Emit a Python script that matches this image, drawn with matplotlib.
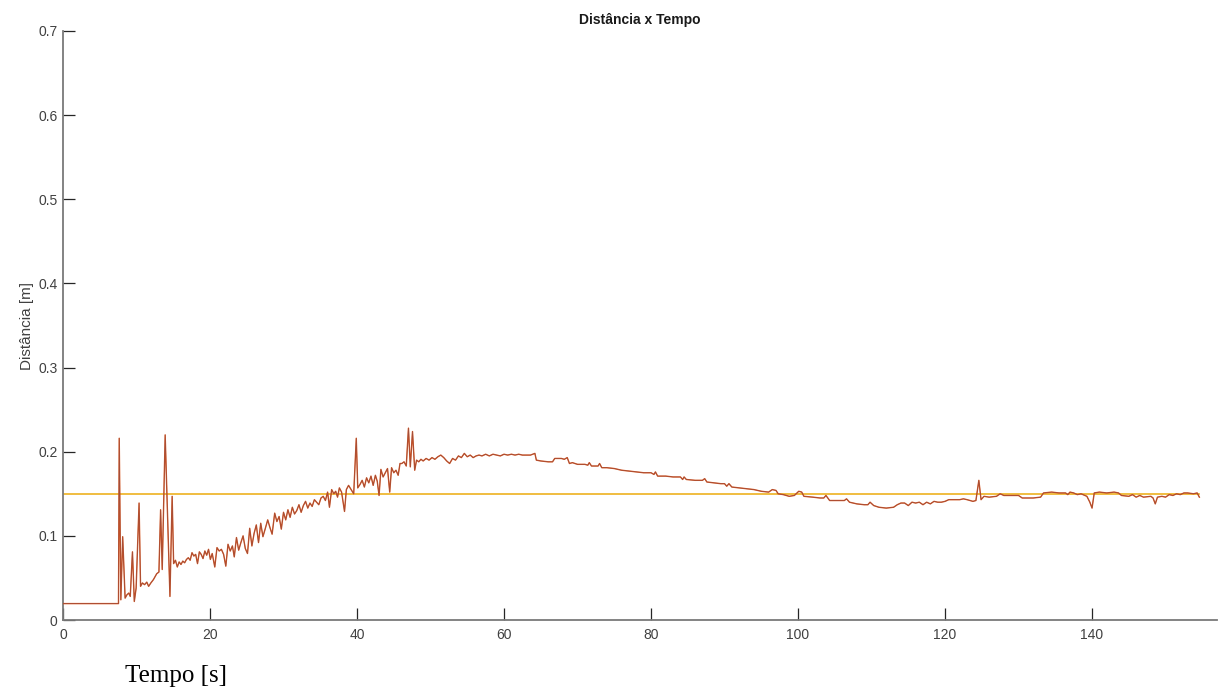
import matplotlib
matplotlib.use("Agg")
import matplotlib.pyplot as plt

# ---- data ----
tempo = [
    0.00, 7.55,
    7.65, 7.87, 8.12, 8.45, 8.70, 8.95, 9.15, 9.45, 9.70, 9.95,
    10.35, 10.55, 10.80, 11.10, 11.40, 11.65, 11.95, 12.30, 12.75, 13.05,
    13.28, 13.50, 13.90, 14.55, 14.85, 15.05, 15.30, 15.55, 15.80, 16.05,
    16.30, 16.55, 16.80, 17.05, 17.30, 17.55, 17.80, 18.05, 18.30, 18.55,
    18.80, 19.05, 19.30, 19.55, 19.80, 20.05, 20.30, 20.65, 20.95, 21.25,
    21.55, 21.85, 22.15, 22.45, 22.75, 23.05, 23.30, 23.60, 23.90, 24.20,
    24.50, 24.80, 25.10, 25.40, 25.70, 26.00, 26.30, 26.60, 26.90, 27.20,
    27.50, 27.85, 28.15, 28.45, 28.80, 29.10, 29.40, 29.70, 30.00, 30.30,
    30.60, 30.90, 31.20, 31.50, 31.80, 32.10, 32.40, 32.70, 33.00, 33.30,
    33.60, 33.90, 34.20, 34.50, 34.80, 35.10, 35.40, 35.70, 36.00, 36.25,
    36.55, 36.85, 37.10, 37.35, 37.60, 37.90, 38.30, 38.55, 38.85, 39.20,
    39.55, 39.90, 40.10, 40.40, 40.70, 41.00, 41.30, 41.60, 41.90, 42.20,
    42.50, 42.75, 43.00, 43.25, 43.55, 43.85, 44.15, 44.45, 44.70, 45.00,
    45.30, 45.60, 45.85, 46.10, 46.40, 46.70, 47.00, 47.25, 47.55, 47.85,
    48.10, 48.40, 48.70, 49.00, 49.40, 49.80, 50.20, 50.60, 51.00, 51.40,
    51.80, 52.20, 52.60, 53.00, 53.40, 53.80, 54.20, 54.60, 55.00, 55.40,
    55.80, 56.20, 56.60, 57.00, 57.50, 58.00, 58.50, 59.00, 59.50, 60.00,
    60.50, 61.00, 61.50, 62.00, 62.50, 63.00, 63.60, 64.20, 64.40, 65.00,
    66.00, 66.60, 66.90, 67.80, 68.20, 68.60, 68.90, 69.30, 70.00, 71.00,
    71.40, 71.60, 71.90, 72.80, 73.00, 73.30, 74.00, 75.00, 76.00, 77.00,
    78.00, 79.00, 80.00, 80.40, 80.60, 80.90, 82.00, 83.00, 84.00, 84.30,
    84.50, 84.80, 86.00, 87.00, 87.30, 87.60, 88.50, 89.50, 90.00, 90.30,
    90.60, 91.00, 92.00, 93.00, 94.00, 95.00, 96.00, 96.50, 97.00, 97.30,
    98.00, 98.80, 99.50, 100.10, 100.50, 100.80, 102.00, 103.00, 103.50, 103.80,
    104.30, 105.50, 106.30, 106.60, 107.00, 108.00, 109.00, 109.50, 109.80, 110.30,
    111.00, 112.00, 113.00, 113.50, 114.00, 114.50, 115.00, 115.50, 116.00, 116.50,
    117.00, 117.50, 118.00, 118.50, 119.00, 119.50, 120.00, 120.50, 121.50, 122.00,
    122.50, 123.00, 123.80, 124.20, 124.60, 124.90, 125.30, 126.00, 127.00, 127.50,
    128.00, 129.50, 130.00, 130.50, 132.00, 133.00, 133.40, 134.50, 135.50, 136.40,
    136.70, 137.00, 137.50, 138.00, 138.50, 139.30, 139.70, 140.00, 140.30, 141.00,
    142.00, 143.00, 143.60, 144.00, 145.00, 145.50, 146.00, 146.50, 147.00, 148.00,
    148.30, 148.60, 148.90, 149.50, 150.00, 150.50, 151.00, 151.50, 152.00, 152.50,
    153.00, 153.80, 154.30, 154.60,
]

distancia = [
    0.0195, 0.0195,
    0.216, 0.024, 0.099, 0.026, 0.030, 0.032, 0.028, 0.081, 0.022, 0.038,
    0.139, 0.040, 0.044, 0.042, 0.045, 0.040, 0.044, 0.048, 0.055, 0.057,
    0.131, 0.060, 0.220, 0.028, 0.147, 0.067, 0.071, 0.063, 0.069, 0.066,
    0.070, 0.068, 0.072, 0.074, 0.071, 0.080, 0.076, 0.078, 0.067, 0.081,
    0.078, 0.073, 0.082, 0.077, 0.084, 0.072, 0.079, 0.063, 0.086, 0.082,
    0.084, 0.078, 0.064, 0.090, 0.082, 0.088, 0.075, 0.098, 0.083, 0.092,
    0.100, 0.085, 0.079, 0.109, 0.088, 0.103, 0.113, 0.092, 0.115, 0.099,
    0.108, 0.119, 0.110, 0.102, 0.127, 0.117, 0.123, 0.108, 0.128, 0.119,
    0.131, 0.122, 0.134, 0.126, 0.130, 0.137, 0.128, 0.136, 0.141, 0.133,
    0.139, 0.135, 0.143, 0.140, 0.137, 0.145, 0.147, 0.142, 0.152, 0.134,
    0.155, 0.150, 0.153, 0.146, 0.157, 0.152, 0.129, 0.155, 0.160, 0.155,
    0.150, 0.216, 0.157, 0.161, 0.166, 0.158, 0.169, 0.163, 0.171, 0.160,
    0.172, 0.165, 0.148, 0.179, 0.170, 0.175, 0.180, 0.152, 0.181, 0.175,
    0.178, 0.172, 0.186, 0.186, 0.188, 0.183, 0.228, 0.182, 0.224, 0.178,
    0.190, 0.188, 0.191, 0.189, 0.192, 0.190, 0.193, 0.191, 0.194, 0.196,
    0.193, 0.189, 0.186, 0.192, 0.190, 0.195, 0.193, 0.198, 0.194, 0.196,
    0.193, 0.195, 0.196, 0.195, 0.197, 0.195, 0.197, 0.196, 0.195, 0.197,
    0.196, 0.197, 0.196, 0.197, 0.196, 0.196, 0.196, 0.198, 0.190, 0.189,
    0.188, 0.188, 0.192, 0.192, 0.191, 0.193, 0.186, 0.187, 0.185, 0.185,
    0.184, 0.187, 0.183, 0.183, 0.186, 0.181, 0.181, 0.180, 0.178, 0.177,
    0.176, 0.175, 0.175, 0.173, 0.176, 0.171, 0.171, 0.170, 0.170, 0.167,
    0.170, 0.167, 0.166, 0.166, 0.168, 0.164, 0.163, 0.162, 0.162, 0.159,
    0.162, 0.158, 0.157, 0.156, 0.155, 0.153, 0.152, 0.155, 0.154, 0.150,
    0.149, 0.147, 0.148, 0.153, 0.152, 0.147, 0.146, 0.145, 0.145, 0.148,
    0.142, 0.142, 0.142, 0.144, 0.140, 0.138, 0.137, 0.137, 0.140, 0.136,
    0.134, 0.133, 0.134, 0.137, 0.139, 0.139, 0.136, 0.140, 0.139, 0.140,
    0.137, 0.140, 0.138, 0.141, 0.140, 0.140, 0.141, 0.143, 0.143, 0.143,
    0.144, 0.143, 0.141, 0.142, 0.166, 0.143, 0.147, 0.146, 0.147, 0.150,
    0.148, 0.148, 0.148, 0.145, 0.145, 0.146, 0.151, 0.152, 0.151, 0.151,
    0.149, 0.152, 0.151, 0.149, 0.150, 0.147, 0.140, 0.133, 0.151, 0.152,
    0.151, 0.152, 0.151, 0.148, 0.147, 0.149, 0.146, 0.148, 0.146, 0.147,
    0.145, 0.138, 0.146, 0.147, 0.146, 0.149, 0.148, 0.150, 0.149, 0.151,
    0.151, 0.150, 0.151, 0.146,
]

referencia = 0.15
tempo_ref = [0.0, 154.6]
x_ticks = [0, 20, 40, 60, 80, 100, 120, 140]
y_ticks = [0, 0.1, 0.2, 0.3, 0.4, 0.5, 0.6, 0.7]
y_labels = ["0", "0.1", "0.2", "0.3", "0.4", "0.5", "0.6", "0.7"]

plt.rcParams['font.family'] = ['Liberation Sans', 'DejaVu Sans']

fig = plt.figure(figsize=(12.19, 6.90), dpi=100)
ax = fig.add_axes([63/1219, 70/690, (1217-63)/1219, (620-31)/690])

ax.plot(tempo, distancia, color='#D95319', lw=1.0, zorder=3)
ax.plot(tempo, distancia, color='#7E4A50', lw=0.55, alpha=0.6, zorder=4)
ax.plot(tempo_ref, [referencia, referencia], color='#EDB120', lw=1.2, zorder=2)

ax.set_xlim(0, 157)
ax.set_ylim(0, 0.7)
ax.set_xticks(x_ticks)
ax.set_yticks(y_ticks)
ax.set_yticklabels(y_labels)

for s in ['top', 'right']:
    ax.spines[s].set_visible(False)
for s in ['left', 'bottom']:
    ax.spines[s].set_color('#7a7a7a')
    ax.spines[s].set_linewidth(1.3)

ax.tick_params(axis='both', direction='in', length=8.5, width=0.9,
               color='#262626', labelcolor='#404040', labelsize=10)
ax.tick_params(axis='x', pad=6)
ax.tick_params(axis='y', pad=4)

ax.set_title('Distância x Tempo', fontsize=10, fontweight='bold',
             color='#1a1a1a', pad=5)
ax.set_ylabel('Distância [m]', fontsize=11, color='#404040', labelpad=3)

fig.text(125/1219, (690-682)/690, 'Tempo [s]', fontsize=18,
         family=['Liberation Serif', 'DejaVu Serif'], color='black',
         ha='left', va='baseline')

fig.savefig('out.png', dpi=100, facecolor='white')
